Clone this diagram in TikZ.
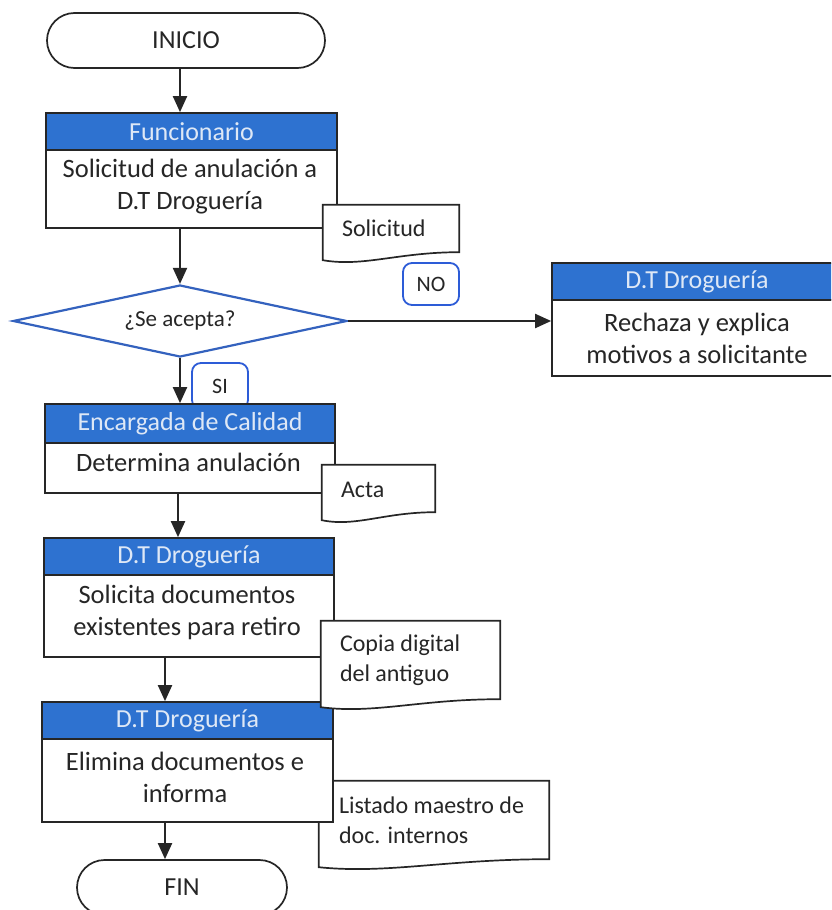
\documentclass[tikz,border=0pt]{standalone}
\usepackage{fontspec}
\setmainfont{Carlito}
\usetikzlibrary{shapes.geometric,shapes.misc,arrows.meta,calc}
\definecolor{hdrblue}{RGB}{46,114,208}
\definecolor{hdrtext}{RGB}{222,232,246}
\definecolor{ink}{RGB}{38,38,38}
\definecolor{dblue}{RGB}{52,98,190}
\definecolor{lblue}{RGB}{45,92,215}
\newcommand\docshape[1]{\filldraw[docst] (#1.north west) -- (#1.north east) -- ($(#1.south east)+(0,-8)$) .. controls ($(#1.south west)!0.55!(#1.south east)+(0,-8)$) and ($(#1.south west)!0.3!(#1.south east)+(0,7)$) .. (#1.south west) -- cycle;}
\begin{document}
\begin{tikzpicture}[x=1pt,y=-1pt,
 hdr/.style={draw=ink, fill=hdrblue, text=hdrtext, font=\fontsize{26}{31}\selectfont, inner sep=0pt, line width=1.7pt},
 body/.style={draw=ink, fill=white, inner sep=0pt, line width=1.7pt},
 btxt/.style={text=ink, font=\fontsize{26.5}{32}\selectfont, align=center, inner sep=0pt},
 term/.style={rounded rectangle, draw=ink, fill=white, text=ink, font=\fontsize{26}{31}\selectfont, inner sep=0pt, line width=1.7pt},
 arr/.style={draw=ink, line width=2pt, -{Triangle[length=16pt,width=14pt]}},
 docfr/.style={inner sep=0pt},
 docst/.style={draw=ink, fill=white, line width=1.7pt},
 dtxt/.style={text=ink, font=\fontsize{24}{30}\selectfont, align=left, inner sep=0pt, anchor=west},
 lbl/.style={draw=lblue, fill=white, rounded corners=9pt, line width=1.8pt, text=ink, font=\fontsize{22}{26}\selectfont, inner sep=0pt},
 dec/.style={diamond, draw=dblue, fill=white, line width=2.2pt, inner sep=0pt, text=ink, font=\fontsize{23}{27}\selectfont}
]
\path[use as bounding box, clip] (0,0) rectangle (831,910);
\coordinate (c1) at (180,0);
\coordinate (c2) at (178,0);
\coordinate (c3) at (165,0);

\node[term, minimum width=278pt, minimum height=55pt] (inicio) at (186,40.5) {INICIO};

\node[hdr, minimum width=291pt, minimum height=37pt] (h1) at (191.5,131.5) {Funcionario};
\node[body, minimum width=291pt, minimum height=78pt] (b1) at (191.5,189) {};
\node[btxt] (t1) at (190,187) {Solicitud de anulación a\\D.T Droguería};
\node[docfr, minimum width=136pt, minimum height=55pt] (s1) at (391,232.5) {};
\docshape{s1}
\node[dtxt] (s1t) at ($(s1.west)+(19,-4)$) {Solicitud};

\node[dec, minimum width=334pt, minimum height=72pt, aspect=4.6] (d) at (180,321) {¿Se acepta?};
\node[lbl, minimum width=56pt, minimum height=42pt] (no) at (431,284) {NO};

\node[hdr, minimum width=290pt, minimum height=37pt] (hr) at (697,281.5) {D.T Droguería};
\node[body, minimum width=290pt, minimum height=76pt] (br) at (697,338) {};
\node[btxt] (tr) at (697,338) {Rechaza y explica\\motivos a solicitante};

\node[lbl, minimum width=56pt, minimum height=46pt] (si) at (220,386) {SI};

\node[hdr, minimum width=290pt, minimum height=39pt] (h2) at (190,423.5) {Encargada de Calidad};
\node[body, minimum width=290pt, minimum height=50pt] (b2) at (190,468) {};
\node[btxt] (t2) at (188.5,462) {Determina anulación};
\node[docfr, minimum width=113pt, minimum height=55pt] (a1) at (378.5,492.5) {};
\docshape{a1}
\node[dtxt] (a1t) at ($(a1.west)+(19,-3)$) {Acta};

\node[hdr, minimum width=290pt, minimum height=37pt] (h3) at (189,556.5) {D.T Droguería};
\node[body, minimum width=290pt, minimum height=82pt] (b3) at (189,616) {};
\node[btxt] (t3) at (187,612) {Solicita documentos\\existentes para retiro};

\node[hdr, minimum width=291pt, minimum height=37pt] (h4) at (187.5,720.5) {D.T Droguería};
\node[docfr, minimum width=179pt, minimum height=86pt] (cd) at (410.5,664) {};
\docshape{cd}
\node[dtxt] (cdt) at ($(cd.west)+(19,-4)$) {Copia digital\\del antiguo};

\node[docfr, minimum width=230pt, minimum height=86pt] (ld) at (434,824) {};
\docshape{ld}
\node[body, minimum width=291pt, minimum height=83pt] (b4) at (187.5,780.5) {};
\node[btxt] (t4) at (185,777) {Elimina documentos e\\informa};
\node[dtxt] (ldt) at ($(ld.west)+(20,-4)$) {Listado maestro de\\doc. internos};

\node[term, minimum width=210pt, minimum height=55pt] (fin) at (182,887.5) {FIN};

\draw[arr] (inicio.south -| c1) -- (h1.north -| c1);
\draw[arr] (b1.south -| c1) -- (d.north);
\draw[arr] (d.east) -- (d.east -| br.west);
\draw[arr] (d.south) -- (h2.north -| d.south);
\draw[arr] (b2.south -| c2) -- (h3.north -| c2);
\draw[arr] (b3.south -| c3) -- (h4.north -| c3);
\draw[arr] (b4.south -| c3) -- (fin.north -| c3);
\end{tikzpicture}
\end{document}
